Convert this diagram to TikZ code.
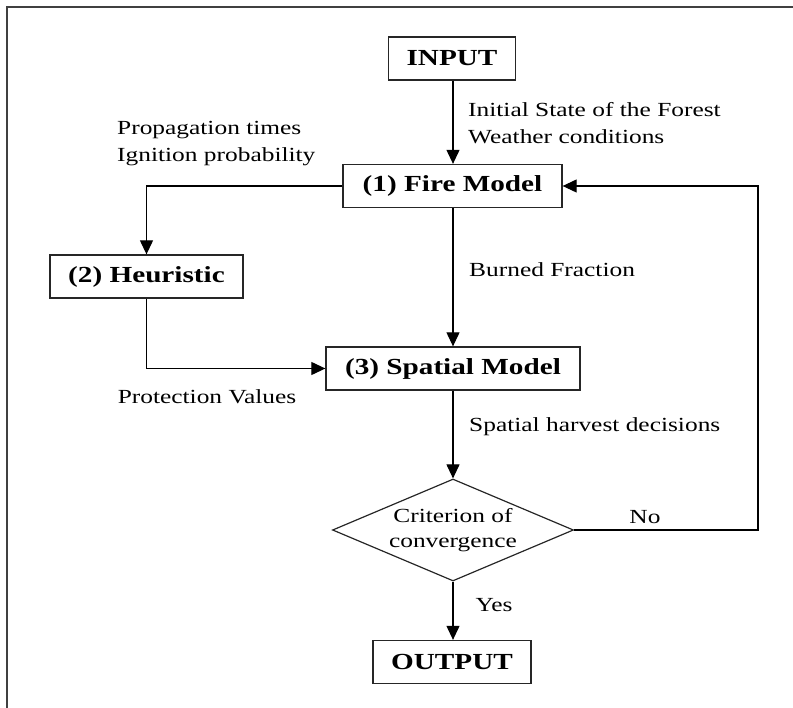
\documentclass[tikz,border=0pt]{standalone}
\usepackage{fontspec}
\setmainfont{Liberation Serif}[FakeStretch=1.27]
\usetikzlibrary{arrows.meta,shapes.geometric}
\begin{document}
\begin{tikzpicture}[x=1pt,y=-1pt,
  box/.style={draw=black!85,line width=1.3pt,minimum height=43pt,inner sep=0pt,
    font=\fontsize{23}{26}\selectfont\bfseries},
  decision/.style={draw=black!85,line width=1.2pt,diamond,aspect=2.35,inner sep=0pt,
    minimum width=241pt,minimum height=102pt,align=center,
    font=\fontsize{20}{25}\selectfont},
  lbl/.style={font=\fontsize{20}{27}\selectfont,inner sep=0pt,align=left},
  flow/.style={line width=1.1pt,-{Triangle[length=14pt,width=13pt]}},
  frame/.style={draw=black!75,line width=1.6pt}]
\useasboundingbox (0,0) rectangle (793,708);
% outer frame (top and left edges)
\draw[frame] (7,708) -- (7,7) -- (793,7);

% blocks
\node[box,minimum width=127pt] (input) at (452,58.5) {INPUT};
\node[box,minimum width=219pt] (fire) at (452.5,186) {(1) Fire Model};
\node[box,minimum width=193pt] (heur) at (146.5,276.5) {(2) Heuristic};
\node[box,minimum width=254pt] (spatial) at (453,368.5) {(3) Spatial Model};
\node[decision] (conv) at (453,530) {Criterion of\\convergence};
\node[box,minimum width=158pt] (output) at (452,662) {OUTPUT};
\coordinate (loop) at (758,530);

% connectors
\draw[flow] (input.south -| 453,0) -- (fire.north -| 453,0);
\draw[flow] (fire.west) -| (heur.north);
\draw[flow] (fire.south -| 453,0) -- (spatial.north -| 453,0);
\draw[flow] (heur.south) |- (spatial.west);
\draw[flow] (spatial.south -| conv.north) -- (conv.north);
\draw[flow] (conv.south) -- (output.north -| conv.south);
\draw[flow] (conv.east) -- (loop) |- (fire.east);

% labels
\node[lbl,anchor=west] (l1) at (468,123.5) {Initial State of the Forest\\Weather conditions};
\node[lbl,anchor=west] (l2) at (117,144) {Propagation times\\Ignition probability};
\node[lbl,anchor=west] (l3) at (469,270) {Burned Fraction};
\node[lbl] (l4) at (207,397) {Protection Values};
\node[lbl,anchor=west] (l5) at (469,427) {Spatial harvest decisions};
\node[lbl] (l6) at (645,517) {No};
\node[lbl] (l7) at (494,605) {Yes};
\end{tikzpicture}
\end{document}
